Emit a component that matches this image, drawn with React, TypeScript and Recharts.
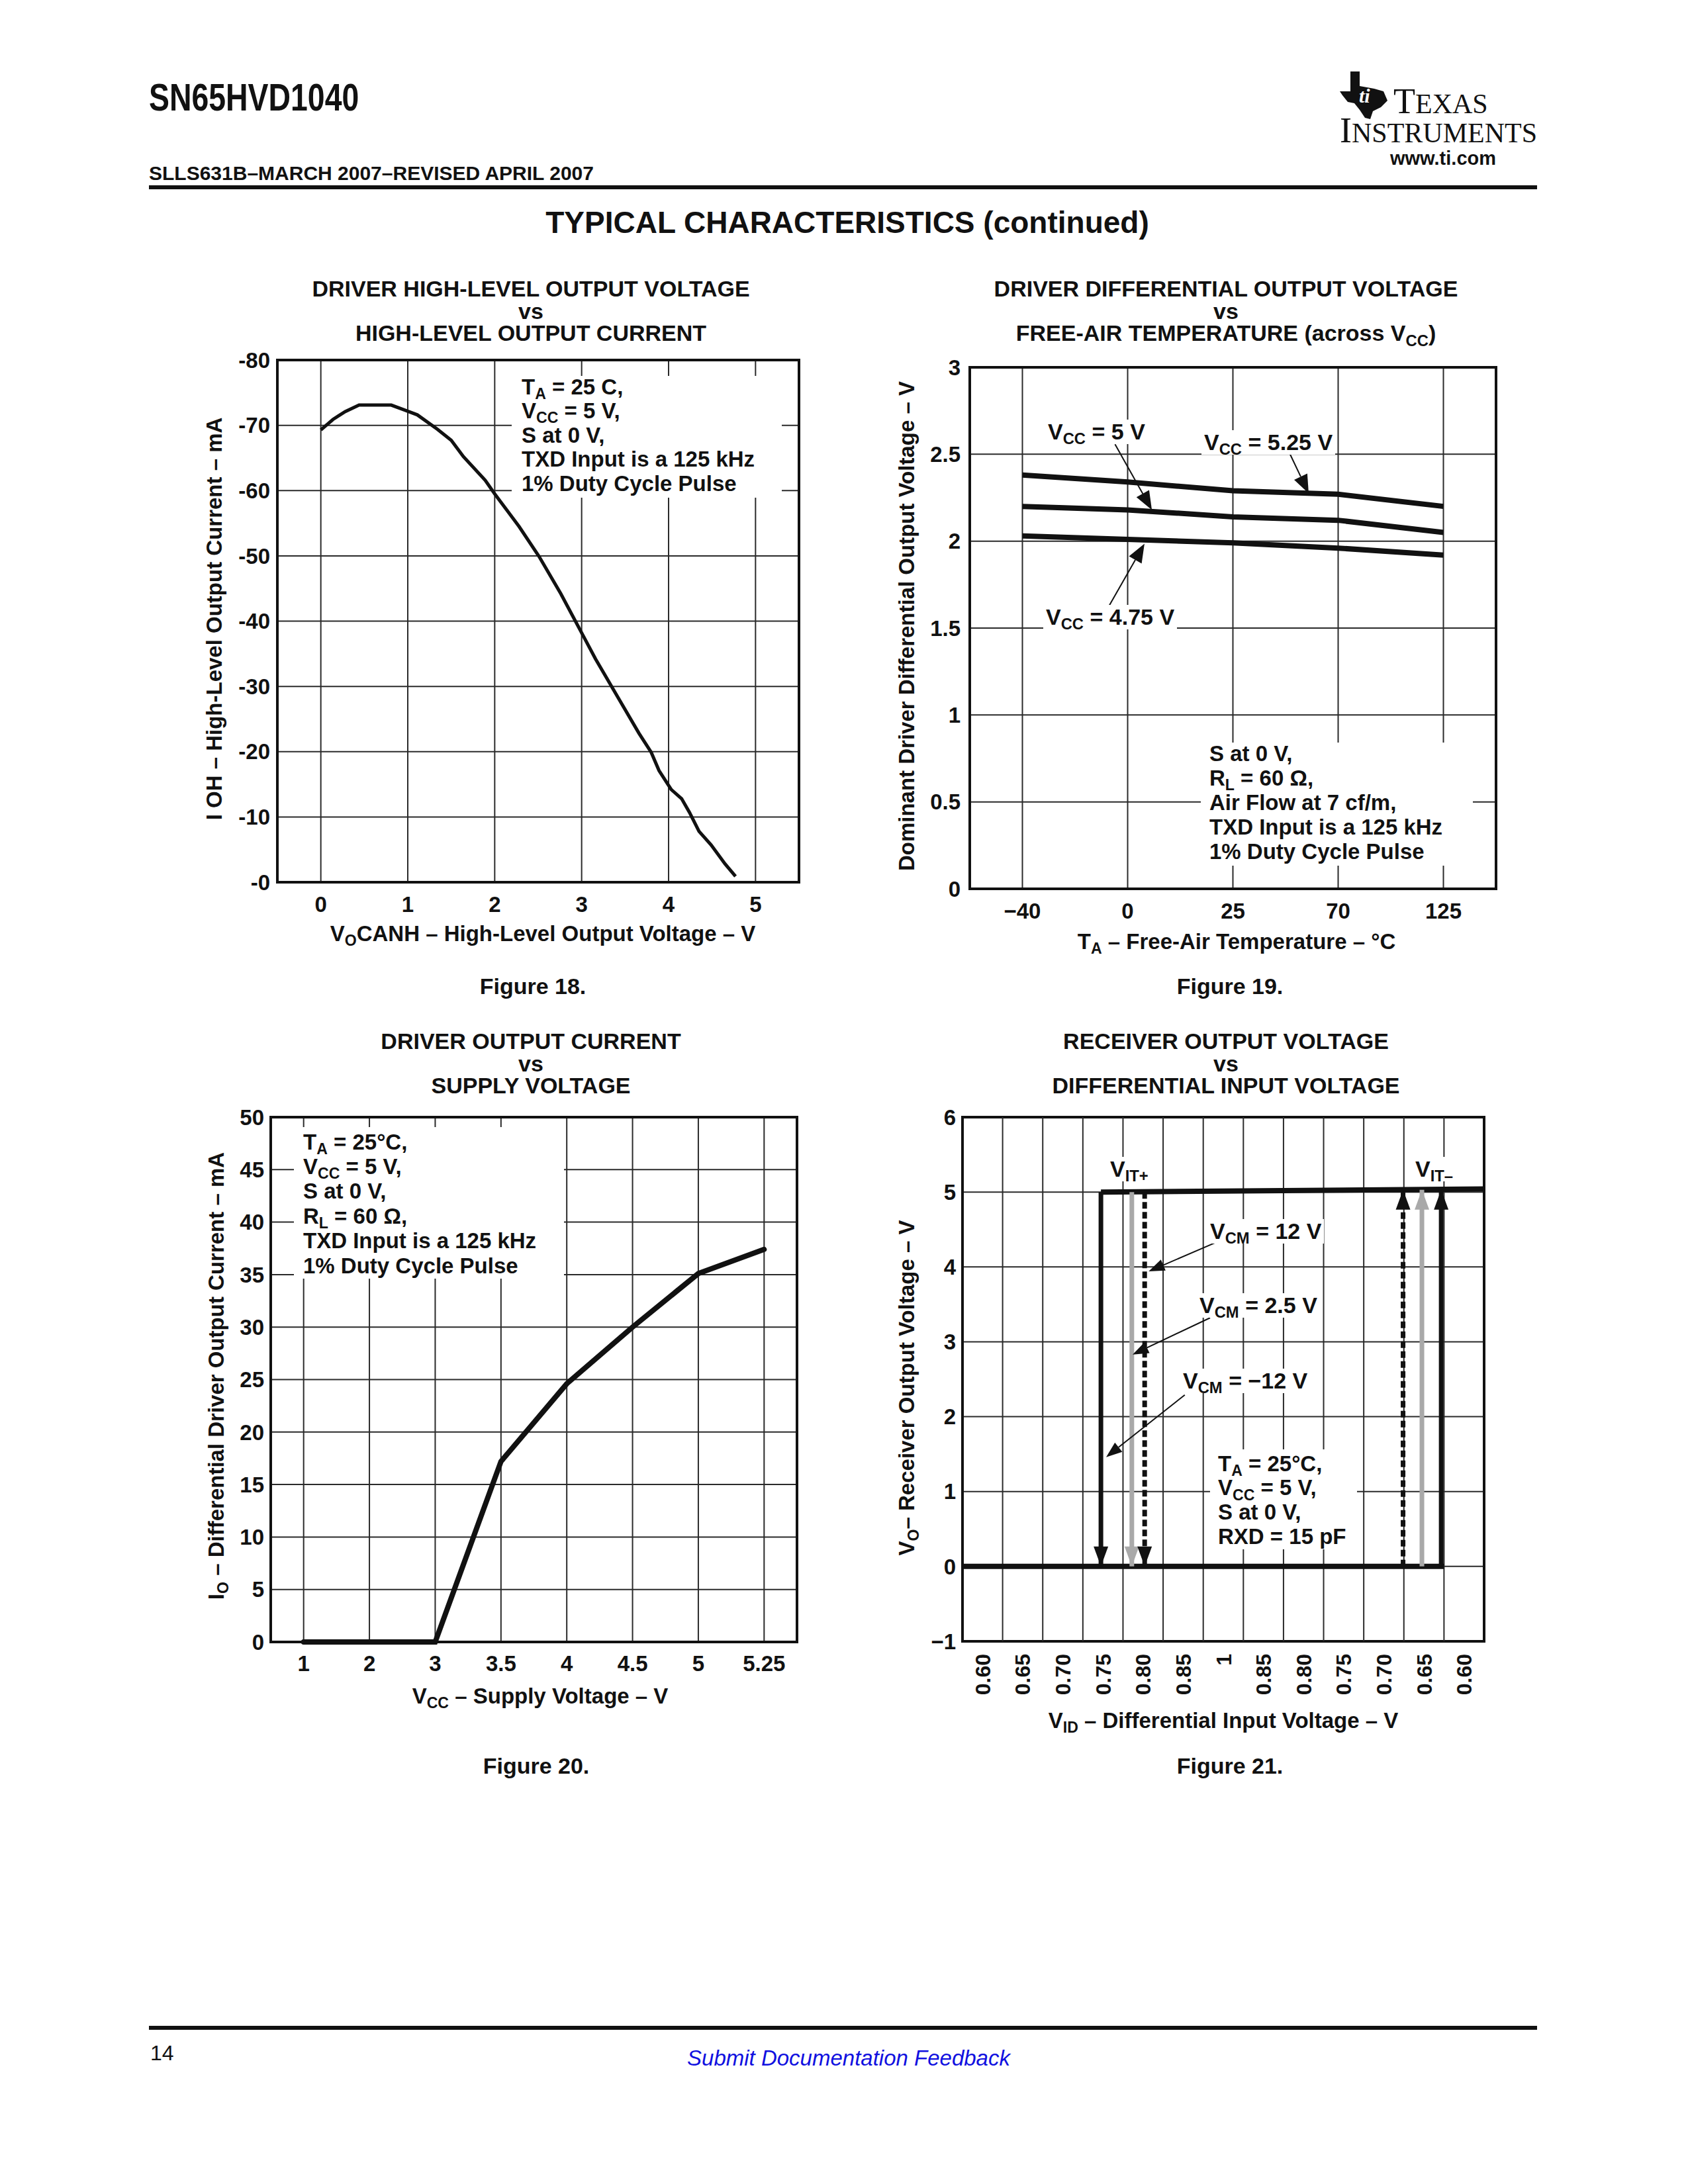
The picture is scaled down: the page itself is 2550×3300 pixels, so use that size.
import React from "react";
import {
  LineChart,
  Line,
  XAxis,
  YAxis,
  CartesianGrid,
  ReferenceArea,
  ReferenceLine,
} from "recharts";

const FONT = '"Liberation Sans", Arial, Helvetica, sans-serif';
const INK = "#111111";
const GRID = "#2a2a2a";
const GRAY = "#a9a9a9";

// Figure 18 - driver high-level output voltage vs current
const fig18Voc = [0, 0.14, 0.28, 0.44, 0.81, 0.97, 1.11, 1.34, 1.5, 1.64, 1.89, 2.0, 2.28, 2.51, 2.76, 3.02, 3.16, 3.41, 3.66, 3.8, 3.89, 4.03, 4.15, 4.24, 4.35, 4.49, 4.65, 4.77];
const fig18Ioh = [-69.3, -70.9, -72.1, -73.1, -73.1, -72.3, -71.6, -69.4, -67.7, -65.2, -61.6, -59.5, -54.5, -49.9, -44.2, -37.7, -34.2, -28.5, -22.8, -19.9, -17.1, -14.2, -12.8, -10.7, -7.8, -5.7, -2.8, -0.9];
const fig18XTicks = [0, 1, 2, 3, 4, 5];
const fig18YTicks = [-80, -70, -60, -50, -40, -30, -20, -10, 0];

// Figure 19 - differential output voltage vs temperature
const fig19Temps = ["−40", "0", "25", "70", "125"];
const fig19Vcc525 = [2.38, 2.34, 2.29, 2.27, 2.2];
const fig19Vcc5 = [2.2, 2.18, 2.14, 2.12, 2.05];
const fig19Vcc475 = [2.03, 2.01, 1.99, 1.96, 1.92];
const fig19YTicks = [0, 0.5, 1, 1.5, 2, 2.5, 3];
const fig19Pointers = [
  { from: { x: 0.88, y: 2.557 }, to: { x: 1.23, y: 2.18 } },
  { from: { x: 2.54, y: 2.504 }, to: { x: 2.72, y: 2.275 } },
  { from: { x: 0.8, y: 1.603 }, to: { x: 1.16, y: 1.985 } },
];

// Figure 20 - driver output current vs supply voltage
const fig20Vcc = ["1", "2", "3", "3.5", "4", "4.5", "5", "5.25"];
const fig20Io = [0, 0, 0, 17.2, 24.6, 30, 35.1, 37.4];
const fig20YTicks = [0, 5, 10, 15, 20, 25, 30, 35, 40, 45, 50];

// Figure 21 - receiver output voltage vs differential input voltage
// x is counted in label cells of the V_ID axis (0 = left edge)
const fig21VidLabels = ["0.60", "0.65", "0.70", "0.75", "0.80", "0.85", "1", "0.85", "0.80", "0.75", "0.70", "0.65", "0.60"];
const fig21YTicks = [-1, 0, 1, 2, 3, 4, 5, 6];
const fig21LowX = [0, 12];
const fig21LowY = [0, 0];
const fig21HighX = [3.45, 13];
const fig21HighY = [5, 5.04];
const fig21FallX = [3.45, 4.22, 4.54]; // VCM = -12 V, 2.5 V, 12 V
const fig21RiseX = [11.93, 11.45, 10.98];
const fig21Pointers = [
  { from: { x: 6.37, y: 4.34 }, to: { x: 4.64, y: 3.94 } },
  { from: { x: 6.17, y: 3.32 }, to: { x: 4.24, y: 2.83 } },
  { from: { x: 5.54, y: 2.29 }, to: { x: 3.58, y: 1.46 } },
];
const fig21Styles = [
  { stroke: INK, dash: undefined },
  { stroke: GRAY, dash: undefined },
  { stroke: INK, dash: "10 5" },
];

type Rect = { x: number; y: number; w: number; h: number };
const AX_W = 120;
const AX_H = 120;
const PAD = 20;
const TICK = { fontSize: 33, fontWeight: 700, fill: INK, fontFamily: FONT };

const plot18: Rect = { x: 419, y: 544, w: 788, h: 789 };
const plot19: Rect = { x: 1465, y: 555, w: 795, h: 788 };
const plot20: Rect = { x: 409, y: 1688, w: 795, h: 793 };
const plot21: Rect = { x: 1454, y: 1688, w: 788, h: 792 };

const boxStyle = (r: Rect): React.CSSProperties => ({ position: "absolute", left: r.x - AX_W, top: r.y - PAD });
const chartSize = (r: Rect) => ({
  width: r.w + AX_W + PAD,
  height: r.h + PAD + AX_H,
  margin: { top: PAD, right: PAD, bottom: 0, left: 0 },
});

const Sub = ({ children }: { children: React.ReactNode }) => (
  <span style={{ fontSize: "0.7em", position: "relative", top: "0.32em", lineHeight: 0 }}>{children}</span>
);

function Lines({ left, top, lines, size = 33, lh = 37, bg = false }: any) {
  return (
    <div
      style={{
        position: "absolute",
        left: bg ? left - 4 : left,
        top,
        fontSize: size,
        lineHeight: `${lh}px`,
        fontWeight: 700,
        whiteSpace: "nowrap",
        color: INK,
        background: bg ? "#fff" : undefined,
        padding: bg ? "0 4px" : undefined,
      }}
    >
      {lines.map((l: React.ReactNode, i: number) => (
        <div key={i}>{l}</div>
      ))}
    </div>
  );
}

const WhiteBox = ({ x, y, w, h }: Rect) => (
  <div style={{ position: "absolute", left: x, top: y, width: w, height: h, background: "#fff" }} />
);

function Centered({ cx, cy, size = 33, lh = 37, children }: any) {
  return (
    <div
      style={{
        position: "absolute",
        left: cx - 600,
        width: 1200,
        top: cy - lh / 2,
        textAlign: "center",
        fontSize: size,
        lineHeight: `${lh}px`,
        fontWeight: 700,
        whiteSpace: "nowrap",
        color: INK,
      }}
    >
      {children}
    </div>
  );
}

function VTitle({ cx, cy, children }: any) {
  return (
    <div
      style={{
        position: "absolute",
        left: cx,
        top: cy,
        transform: "translate(-50%, -50%) rotate(-90deg)",
        whiteSpace: "nowrap",
        fontSize: 33,
        lineHeight: "37px",
        fontWeight: 700,
        color: INK,
      }}
    >
      {children}
    </div>
  );
}

function Title({ cx, top, lines }: any) {
  return (
    <div
      style={{
        position: "absolute",
        left: cx - 600,
        width: 1200,
        top,
        textAlign: "center",
        fontSize: 34,
        lineHeight: "33.5px",
        fontWeight: 700,
        color: INK,
        whiteSpace: "nowrap",
      }}
    >
      {lines.map((l: React.ReactNode, i: number) => (
        <div key={i}>{l}</div>
      ))}
    </div>
  );
}

const arrowDot = (color: string, dir: "up" | "down", w = 22, h = 30) => (p: any) => {
  const { cx, cy, index } = p;
  if (index !== 1 || cx == null) return <g key={`n${index}`} />;
  const s = dir === "down" ? -1 : 1;
  const pts = `${cx - w / 2},${cy + s * h} ${cx + w / 2},${cy + s * h} ${cx},${cy}`;
  return <polygon key={`a${index}`} points={pts} fill={color} />;
};

const leader = (head = 26, width = 18) => (p: any) => {
  const { x1, y1, x2, y2 } = p;
  const a = Math.atan2(y2 - y1, x2 - x1);
  const bx = x2 - head * Math.cos(a);
  const by = y2 - head * Math.sin(a);
  const nx = (-Math.sin(a) * width) / 2;
  const ny = (Math.cos(a) * width) / 2;
  return (
    <g>
      <line x1={x1} y1={y1} x2={bx} y2={by} stroke={INK} strokeWidth={2} />
      <polygon points={`${x2},${y2} ${bx + nx},${by + ny} ${bx - nx},${by - ny}`} fill={INK} />
    </g>
  );
};

function Fig18() {
  const data = fig18Voc.map((x, i) => ({ x, y: fig18Ioh[i] }));
  return (
    <div style={boxStyle(plot18)}>
      <LineChart {...chartSize(plot18)}>
        <CartesianGrid stroke={GRID} strokeWidth={2} />
        <XAxis dataKey="x" type="number" domain={[-0.5, 5.5]} ticks={fig18XTicks} interval={0} height={AX_H} tickSize={0} tickMargin={22} axisLine={false} tick={TICK} />
        <YAxis type="number" domain={[-80, 0]} reversed ticks={fig18YTicks} interval={0} width={AX_W} tickSize={0} tickMargin={11} axisLine={false} tick={TICK} tickFormatter={(v: number) => (v === 0 ? "-0" : String(v))} />
        <ReferenceArea x1={-0.5} x2={5.5} y1={-80} y2={0} fill="none" stroke={INK} strokeWidth={4} />
        <Line data={data} dataKey="y" type="linear" stroke={INK} strokeWidth={5} dot={false} activeDot={false} isAnimationActive={false} />
      </LineChart>
    </div>
  );
}

function Fig19() {
  const data = fig19Temps.map((_, i) => ({ i, v525: fig19Vcc525[i], v5: fig19Vcc5[i], v475: fig19Vcc475[i] }));
  return (
    <div style={boxStyle(plot19)}>
      <LineChart {...chartSize(plot19)} data={data}>
        <CartesianGrid stroke={GRID} strokeWidth={2} />
        <XAxis dataKey="i" type="number" domain={[-0.5, 4.5]} ticks={[0, 1, 2, 3, 4]} interval={0} height={AX_H} tickSize={0} tickMargin={22} axisLine={false} tick={TICK} tickFormatter={(v: number) => fig19Temps[v]} />
        <YAxis type="number" domain={[0, 3]} ticks={fig19YTicks} interval={0} width={AX_W} tickSize={0} tickMargin={14} axisLine={false} tick={TICK} />
        <ReferenceArea x1={-0.5} x2={4.5} y1={0} y2={3} fill="none" stroke={INK} strokeWidth={4} />
        <Line dataKey="v525" type="linear" stroke={INK} strokeWidth={8} dot={false} activeDot={false} isAnimationActive={false} />
        <Line dataKey="v5" type="linear" stroke={INK} strokeWidth={8} dot={false} activeDot={false} isAnimationActive={false} />
        <Line dataKey="v475" type="linear" stroke={INK} strokeWidth={8} dot={false} activeDot={false} isAnimationActive={false} />
        {fig19Pointers.map((p, k) => (
          <ReferenceLine key={k} segment={[p.from, p.to]} shape={leader(28, 22)} />
        ))}
      </LineChart>
    </div>
  );
}

function Fig20() {
  const data = fig20Vcc.map((_, i) => ({ i, io: fig20Io[i] }));
  return (
    <div style={boxStyle(plot20)}>
      <LineChart {...chartSize(plot20)} data={data}>
        <CartesianGrid stroke={GRID} strokeWidth={2} />
        <XAxis dataKey="i" type="number" domain={[-0.5, 7.5]} ticks={fig20Vcc.map((_, i) => i)} interval={0} height={AX_H} tickSize={0} tickMargin={21} axisLine={false} tick={TICK} tickFormatter={(v: number) => fig20Vcc[v]} />
        <YAxis type="number" domain={[0, 50]} ticks={fig20YTicks} interval={0} width={AX_W} tickSize={0} tickMargin={10} axisLine={false} tick={TICK} />
        <ReferenceArea x1={-0.5} x2={7.5} y1={0} y2={50} fill="none" stroke={INK} strokeWidth={4} />
        <Line dataKey="io" type="linear" stroke={INK} strokeWidth={8} strokeLinecap="round" dot={false} activeDot={false} isAnimationActive={false} />
      </LineChart>
    </div>
  );
}

const RotatedTick = (props: any) => {
  const { x, y, payload } = props;
  const label = fig21VidLabels[Math.floor(payload.value)];
  return (
    <text x={x} y={y} transform={`rotate(-90 ${x} ${y})`} textAnchor="end" dy="0.36em" fontSize={32} fontWeight={700} fill={INK} fontFamily={FONT}>
      {label}
    </text>
  );
};

function Fig21() {
  const n = fig21VidLabels.length;
  const low = fig21LowX.map((x, i) => ({ x, y: fig21LowY[i] }));
  const high = fig21HighX.map((x, i) => ({ x, y: fig21HighY[i] }));
  return (
    <div style={boxStyle(plot21)}>
      <LineChart {...chartSize(plot21)}>
        <CartesianGrid stroke={GRID} strokeWidth={2} vertical={false} />
        <XAxis dataKey="x" type="number" domain={[0, n]} ticks={fig21VidLabels.map((_, i) => i + 0.5)} interval={0} height={AX_H} tickSize={0} tickMargin={19} axisLine={false} tick={<RotatedTick />} />
        <YAxis type="number" domain={[-1, 6]} ticks={fig21YTicks} interval={0} width={AX_W} tickSize={0} tickMargin={10} axisLine={false} tick={TICK} tickFormatter={(v: number) => (v < 0 ? `−${Math.abs(v)}` : String(v))} />
        {fig21VidLabels.slice(1).map((_, i) => (
          <ReferenceLine key={`g${i}`} x={i + 1} stroke={GRID} strokeWidth={2} />
        ))}
        <ReferenceArea x1={0} x2={n} y1={-1} y2={6} fill="none" stroke={INK} strokeWidth={4} />
        <Line data={low} dataKey="y" type="linear" stroke={INK} strokeWidth={8} dot={false} activeDot={false} isAnimationActive={false} />
        <Line data={high} dataKey="y" type="linear" stroke={INK} strokeWidth={8} dot={false} activeDot={false} isAnimationActive={false} />
        {fig21FallX.map((x, k) => (
          <Line key={`f${k}`} data={[{ x, y: 5 }, { x, y: 0 }]} dataKey="y" type="linear" stroke={fig21Styles[k].stroke} strokeDasharray={fig21Styles[k].dash} strokeWidth={7} dot={arrowDot(fig21Styles[k].stroke, "down")} activeDot={false} isAnimationActive={false} />
        ))}
        {fig21RiseX.map((x, k) => (
          <Line key={`r${k}`} data={[{ x, y: 0 }, { x, y: 5.03 }]} dataKey="y" type="linear" stroke={fig21Styles[k].stroke} strokeDasharray={fig21Styles[k].dash} strokeWidth={7} dot={arrowDot(fig21Styles[k].stroke, "up")} activeDot={false} isAnimationActive={false} />
        ))}
        {fig21Pointers.map((p, k) => (
          <ReferenceLine key={`p${k}`} segment={[p.from, p.to]} shape={leader(24, 18)} />
        ))}
      </LineChart>
    </div>
  );
}

function TiLogo() {
  const serif = '"Liberation Serif", serif';
  return (
    <>
      <svg style={{ position: "absolute", left: 2024, top: 108 }} width={74} height={72} viewBox="0 0 74 72">
        <polygon points="16,0 30,0 30,22 52,26 66,30 72,44 62,54 50,60 46,72 38,70 30,58 22,48 12,46 4,36 0,30 16,30" fill={INK} />
        <text x={29} y={47} fill="#fff" fontFamily={serif} fontStyle="italic" fontWeight={700} fontSize={30}>
          ti
        </text>
      </svg>
      <div style={{ position: "absolute", left: 2105, top: 133, fontFamily: serif, fontSize: 54, lineHeight: "40px", color: INK, whiteSpace: "nowrap" }}>
        T<span style={{ fontSize: 42 }}>EXAS</span>
      </div>
      <div style={{ position: "absolute", left: 2024, top: 179, fontFamily: serif, fontSize: 54, lineHeight: "36px", color: INK, whiteSpace: "nowrap" }}>
        I<span style={{ fontSize: 42 }}>NSTRUMENTS</span>
      </div>
      <div style={{ position: "absolute", left: 2080, width: 200, textAlign: "center", top: 226, fontSize: 29, lineHeight: "27px", fontWeight: 700, color: INK }}>
        www.ti.com
      </div>
    </>
  );
}

export default function App() {
  return (
    <div style={{ position: "absolute", left: 0, top: 0, width: 2550, height: 3300, background: "#fff", fontFamily: FONT, color: INK, overflow: "hidden" }}>
      {/* page header */}
      <div style={{ position: "absolute", left: 225, top: 118, fontSize: 58, lineHeight: "58px", fontWeight: 700, transform: "scaleX(0.8)", transformOrigin: "left top", whiteSpace: "nowrap" }}>
        SN65HVD1040
      </div>
      <div style={{ position: "absolute", left: 225, top: 248, fontSize: 30, lineHeight: "28px", fontWeight: 700, whiteSpace: "nowrap" }}>
        SLLS631B–MARCH 2007–REVISED APRIL 2007
      </div>
      <TiLogo />
      <div style={{ position: "absolute", left: 225, top: 280, width: 2097, height: 6, background: INK }} />
      <div style={{ position: "absolute", left: 280, width: 2000, top: 313, textAlign: "center", fontSize: 46, lineHeight: "46px", fontWeight: 700, whiteSpace: "nowrap" }}>
        TYPICAL CHARACTERISTICS (continued)
      </div>

      {/* Figure 18 */}
      <Title cx={802} top={420} lines={["DRIVER HIGH-LEVEL OUTPUT VOLTAGE", "vs", "HIGH-LEVEL OUTPUT CURRENT"]} />
      <Fig18 />
      <WhiteBox x={773} y={568} w={408} h={184} />
      <Lines
        left={788}
        top={566.5}
        lh={36.5}
        lines={[
          <>T<Sub>A</Sub> = 25 C,</>,
          <>V<Sub>CC</Sub> = 5 V,</>,
          "S at 0 V,",
          "TXD Input is a 125 kHz",
          "1% Duty Cycle Pulse",
        ]}
      />
      <Centered cx={820} cy={1410}>
        V<Sub>O</Sub>CANH – High-Level Output Voltage – V
      </Centered>
      <VTitle cx={323} cy={935}>I OH – High-Level Output Current – mA</VTitle>
      <Centered cx={805} cy={1490} size={34}>Figure 18.</Centered>

      {/* Figure 19 */}
      <Title cx={1852} top={420} lines={["DRIVER DIFFERENTIAL OUTPUT VOLTAGE", "vs", <>FREE-AIR TEMPERATURE (across V<Sub>CC</Sub>)</>]} />
      <Fig19 />
      <Lines left={1583} top={633.5} size={34} bg lines={[<>V<Sub>CC</Sub> = 5 V</>]} />
      <Lines left={1819} top={649.5} size={34} bg lines={[<>V<Sub>CC</Sub> = 5.25 V</>]} />
      <Lines left={1580} top={913.5} size={34} bg lines={[<>V<Sub>CC</Sub> = 4.75 V</>]} />
      <WhiteBox x={1814} y={1122} w={411} h={186} />
      <Lines
        left={1827}
        top={1119.5}
        lines={[
          "S at 0 V,",
          <>R<Sub>L</Sub> = 60 Ω,</>,
          "Air Flow at 7 cf/m,",
          "TXD Input is a 125 kHz",
          "1% Duty Cycle Pulse",
        ]}
      />
      <Centered cx={1868} cy={1422}>
        T<Sub>A</Sub> – Free-Air Temperature – °C
      </Centered>
      <VTitle cx={1369} cy={946}>Dominant Driver Differential Output Voltage – V</VTitle>
      <Centered cx={1858} cy={1490} size={34}>Figure 19.</Centered>

      {/* Figure 20 */}
      <Title cx={802} top={1557} lines={["DRIVER OUTPUT CURRENT", "vs", "SUPPLY VOLTAGE"]} />
      <Fig20 />
      <WhiteBox x={444} y={1703} w={408} h={229} />
      <Lines
        left={458}
        top={1706.5}
        lh={37.4}
        lines={[
          <>T<Sub>A</Sub> = 25°C,</>,
          <>V<Sub>CC</Sub> = 5 V,</>,
          "S at 0 V,",
          <>R<Sub>L</Sub> = 60 Ω,</>,
          "TXD Input is a 125 kHz",
          "1% Duty Cycle Pulse",
        ]}
      />
      <Centered cx={816} cy={2562}>
        V<Sub>CC</Sub> – Supply Voltage – V
      </Centered>
      <VTitle cx={326} cy={2079}>
        I<Sub>O</Sub> – Differential Driver Output Current – mA
      </VTitle>
      <Centered cx={810} cy={2668} size={34}>Figure 20.</Centered>

      {/* Figure 21 */}
      <Title cx={1852} top={1557} lines={["RECEIVER OUTPUT VOLTAGE", "vs", "DIFFERENTIAL INPUT VOLTAGE"]} />
      <Fig21 />
      <Lines left={1677} top={1747.5} size={34} bg lines={[<>V<Sub>IT+</Sub></>]} />
      <Lines left={2138} top={1747.5} size={34} bg lines={[<>V<Sub>IT–</Sub></>]} />
      <Lines left={1828} top={1841.5} size={34} bg lines={[<>V<Sub>CM</Sub> = 12 V</>]} />
      <Lines left={1812} top={1953.5} size={34} bg lines={[<>V<Sub>CM</Sub> = 2.5 V</>]} />
      <Lines left={1787} top={2067.5} size={34} bg lines={[<>V<Sub>CM</Sub> = −12 V</>]} />
      <WhiteBox x={1828} y={2190} w={222} h={151} />
      <Lines
        left={1840}
        top={2193.5}
        lh={36.7}
        lines={[
          <>T<Sub>A</Sub> = 25°C,</>,
          <>V<Sub>CC</Sub> = 5 V,</>,
          "S at 0 V,",
          "RXD = 15 pF",
        ]}
      />
      <Centered cx={1848} cy={2599}>
        V<Sub>ID</Sub> – Differential Input Voltage – V
      </Centered>
      <VTitle cx={1369} cy={2097}>
        V<Sub>O</Sub>– Receiver Output Voltage – V
      </VTitle>
      <Centered cx={1858} cy={2668} size={34}>Figure 21.</Centered>

      {/* page footer */}
      <div style={{ position: "absolute", left: 225, top: 3061, width: 2097, height: 6, background: INK }} />
      <div style={{ position: "absolute", left: 227, top: 3086, fontSize: 32, lineHeight: "32px" }}>14</div>
      <div style={{ position: "absolute", left: 782, width: 1000, top: 3093, textAlign: "center", fontSize: 33, lineHeight: "33px", fontStyle: "italic", color: "#1010e0", whiteSpace: "nowrap" }}>
        Submit Documentation Feedback
      </div>
    </div>
  );
}
